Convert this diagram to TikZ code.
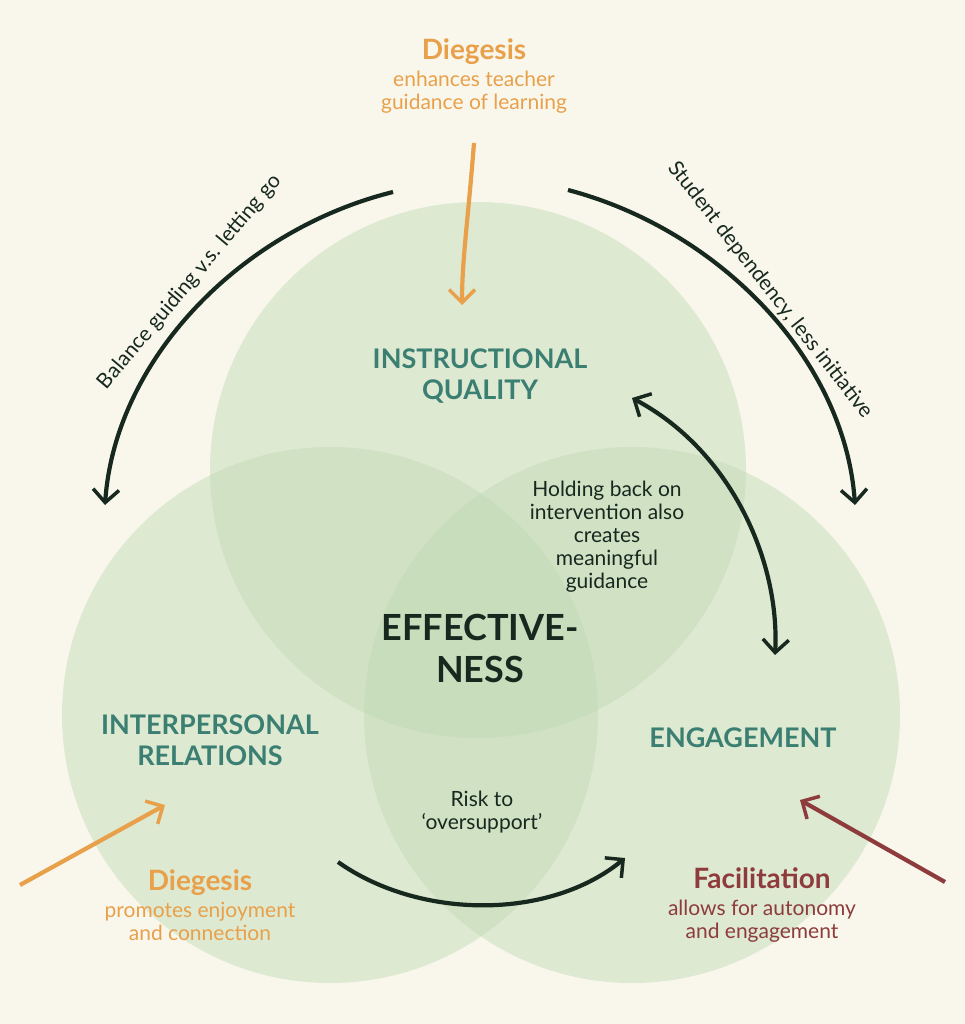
\documentclass[tikz,border=0pt]{standalone}
\usepackage{fontspec}
\setmainfont{Lato}
\usetikzlibrary{arrows.meta}
\definecolor{bg}{HTML}{F9F7EC}
\definecolor{circ}{HTML}{BFD9B4}
\definecolor{teal}{HTML}{3A7F72}
\definecolor{orng}{HTML}{E8A04A}
\definecolor{dark}{HTML}{17291F}
\definecolor{rust}{HTML}{8E3B3B}
\tikzset{
  set/.style={fill=circ,fill opacity=0.45,draw=none},
  head/.style={font=\fontsize{27}{31}\selectfont\bfseries,text=teal,align=center},
  note/.style={font=\fontsize{21}{27}\selectfont,align=center},
  >={Straight Barb[length=13pt,width=26pt,line width=3.5pt]},
  arr/.style={line width=4.2pt,->},
}
\begin{document}
\begin{tikzpicture}[x=1pt,y=-1pt]
\useasboundingbox[fill=bg] (0,0) rectangle (965,1024);
\fill[set] (478,470) circle (268);
\fill[set] (330,715) circle (268);
\fill[set] (632,715) circle (268);
% headings
\node[head] (iq) at (480,376) {INSTRUCTIONAL\\QUALITY};
\node[head] (ir) at (210,740) {INTERPERSONAL\\RELATIONS};
\node[head] (en) at (743,738) {ENGAGEMENT};
\node[head,text=dark,font=\fontsize{36}{42}\selectfont\bfseries] (ef) at (480,648) {EFFECTIVE-\\NESS};
% notes
\node[note,text=orng] (d1) at (474,76) {{\fontsize{28}{32}\selectfont\bfseries Diegesis}\\enhances teacher\\[-4pt]guidance of learning};
\node[note,text=orng] (d2) at (200,905) {{\fontsize{28}{32}\selectfont\bfseries Diegesis}\\promotes enjoyment\\[-4pt]and connection};
\node[note,text=rust] (fa) at (762,905) {{\fontsize{28}{32}\selectfont\bfseries Facilitation}\\allows for autonomy\\[-4pt]and engagement};
\node[note,text=dark] (hb) at (607,537) {Holding back on\\[-4pt]intervention also\\[-4pt]creates\\[-4pt]meaningful\\[-4pt]guidance};
\node[note,text=dark] (rk) at (482,812) {Risk to\\[-4pt]‘oversupport’};
\node[note,text=dark,rotate=50] (bg) at (190,282) {Balance guiding v.s. letting go};
\node[note,text=dark,rotate=-52] (sd) at (770,290) {Student dependency, less initiative};
% connectors
\coordinate (a1) at (393,192); \coordinate (b1) at (105,505);
\coordinate (a2) at (568,190); \coordinate (b2) at (855,505);
\coordinate (a3) at (474,143); \coordinate (b3) at (462,305);
\coordinate (a4) at (632,398); \coordinate (b4) at (775,655);
\coordinate (a5) at (338,862); \coordinate (b5) at (625,858);
\coordinate (a6) at (20,885); \coordinate (b6) at (165,805);
\coordinate (a7) at (945,882); \coordinate (b7) at (800,800);
\draw[arr,dark] (a1) .. controls (240,230) and (115,360) .. (b1);
\draw[arr,dark] (a2) .. controls (720,230) and (845,360) .. (b2);
\draw[arr,orng] (a3) .. controls (468,220) and (462,260) .. (b3);
\draw[arr,dark,<->] (a4) .. controls (730,450) and (780,560) .. (b4);
\draw[arr,dark] (a5) .. controls (420,920) and (550,920) .. (b5);
\draw[arr,orng] (a6) -- (b6);
\draw[arr,rust] (a7) -- (b7);
\end{tikzpicture}
\end{document}
